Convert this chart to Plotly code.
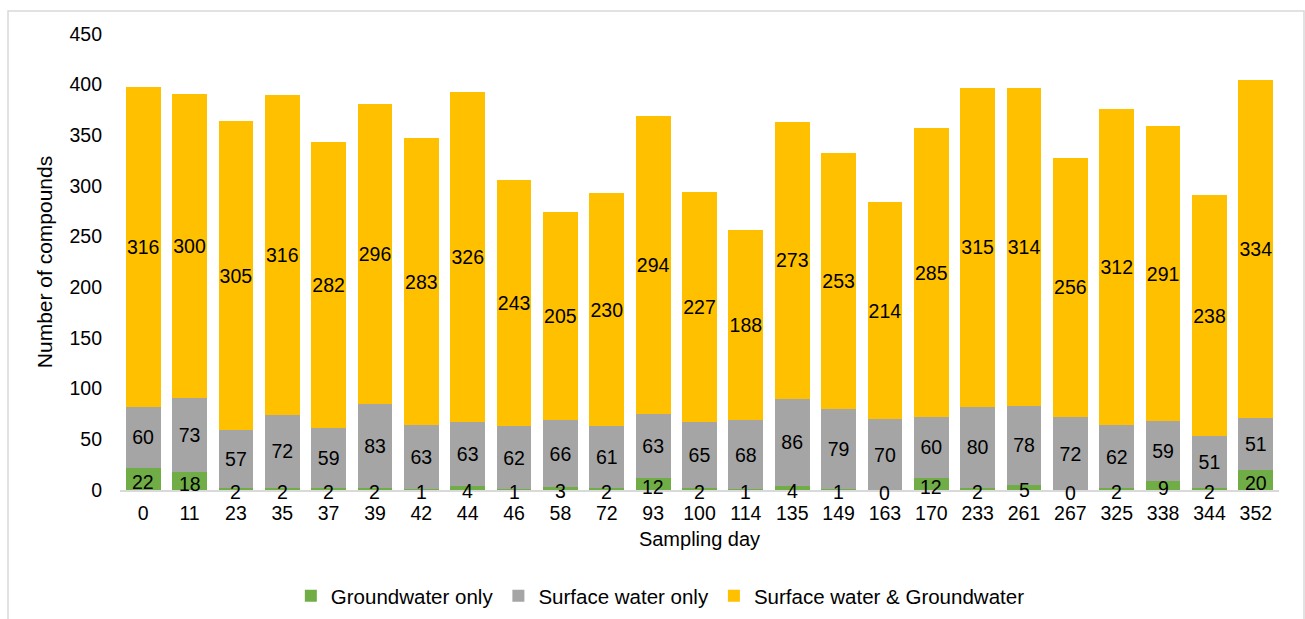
import plotly.graph_objects as go

# Sampling days and compound counts per detection group
days = ["0", "11", "23", "35", "37", "39", "42", "44", "46", "58", "72", "93", "100",
        "114", "135", "149", "163", "170", "233", "261", "267", "325", "338", "344", "352"]
groundwater_only = [22, 18, 2, 2, 2, 2, 1, 4, 1, 3, 2, 12, 2, 1, 4, 1, 0, 12, 2, 5, 0, 2, 9, 2, 20]
surface_only = [60, 73, 57, 72, 59, 83, 63, 63, 62, 66, 61, 63, 65, 68, 86, 79, 70, 60, 80, 78,
                72, 62, 59, 51, 51]
both = [316, 300, 305, 316, 282, 296, 283, 326, 243, 205, 230, 294, 227, 188, 273, 253, 214,
        285, 315, 314, 256, 312, 291, 238, 334]

FONT = "Liberation Sans, Arial, sans-serif"
W, H = 1305, 619
ML, MR, MT, MB = 120, 26, 34, 129
LABEL_SIZE = 19.5

fig = go.Figure()

# green segments: labels drawn as annotations so thin bars still show their counts
fig.add_trace(go.Bar(
    x=days, y=groundwater_only, name="Groundwater only",
    marker=dict(color="#70AD47", line=dict(width=0)),
))
for name, vals, color in [("Surface water only", surface_only, "#A5A5A5"),
                          ("Surface water & Groundwater", both, "#FFC000")]:
    fig.add_trace(go.Bar(
        x=days, y=vals, name=name,
        marker=dict(color=color, line=dict(width=0)),
        text=[str(v) for v in vals],
        textposition="inside", insidetextanchor="middle",
        textangle=0, constraintext="none",
        textfont=dict(family=FONT, size=LABEL_SIZE, color="#000000"),
    ))

# category positions are addressed by index on the category axis
for i, v in enumerate(groundwater_only):
    fig.add_annotation(x=i, y=v / 2, text=str(v), showarrow=False,
                       xanchor="center", yanchor="middle", yshift=-3,
                       font=dict(family=FONT, size=LABEL_SIZE, color="#000000"))

# light outer frame (bottom edge runs past the page)
pw, ph = W - ML - MR, H - MT - MB
fig.add_shape(type="rect", xref="paper", yref="paper",
              x0=(8 - ML) / pw, x1=(1304 - ML) / pw,
              y0=(H - MB - 640) / ph, y1=(H - MB - 11) / ph,
              line=dict(color="#D9D9D9", width=1.5), fillcolor="rgba(0,0,0,0)",
              layer="below")

fig.update_layout(
    width=W, height=H,
    barmode="stack", bargap=0.25,
    plot_bgcolor="white", paper_bgcolor="white",
    margin=dict(l=ML, r=MR, t=MT, b=MB, autoexpand=False),
    font=dict(family=FONT, size=LABEL_SIZE, color="#000000"),
    uniformtext=dict(mode="show", minsize=LABEL_SIZE),
    xaxis=dict(
        type="category", range=[-0.5, len(days) - 0.5], autorange=False,
        showgrid=False, showline=True, linecolor="#D9D9D9", linewidth=1.5,
        ticks="", ticklabelstandoff=5, tickangle=0,
        tickfont=dict(family=FONT, size=LABEL_SIZE, color="#000000"),
        title=dict(text="Sampling day", font=dict(family=FONT, size=20, color="#000000"),
                   standoff=9),
    ),
    yaxis=dict(
        range=[0, 450], autorange=False, dtick=50, showgrid=False, zeroline=False,
        showline=False, ticks="", ticklabelstandoff=17,
        tickfont=dict(family=FONT, size=LABEL_SIZE, color="#000000"),
        title=dict(text="Number of compounds", font=dict(family=FONT, size=21, color="#000000"),
                   standoff=11),
    ),
    legend=dict(
        orientation="h", x=0.506, xref="container", xanchor="center",
        y=1 - 576 / H, yref="container", yanchor="top",
        font=dict(family=FONT, size=20.5, color="#000000"),
        itemwidth=30, traceorder="normal",
    ),
    showlegend=True,
)

fig.write_html("out.html")
